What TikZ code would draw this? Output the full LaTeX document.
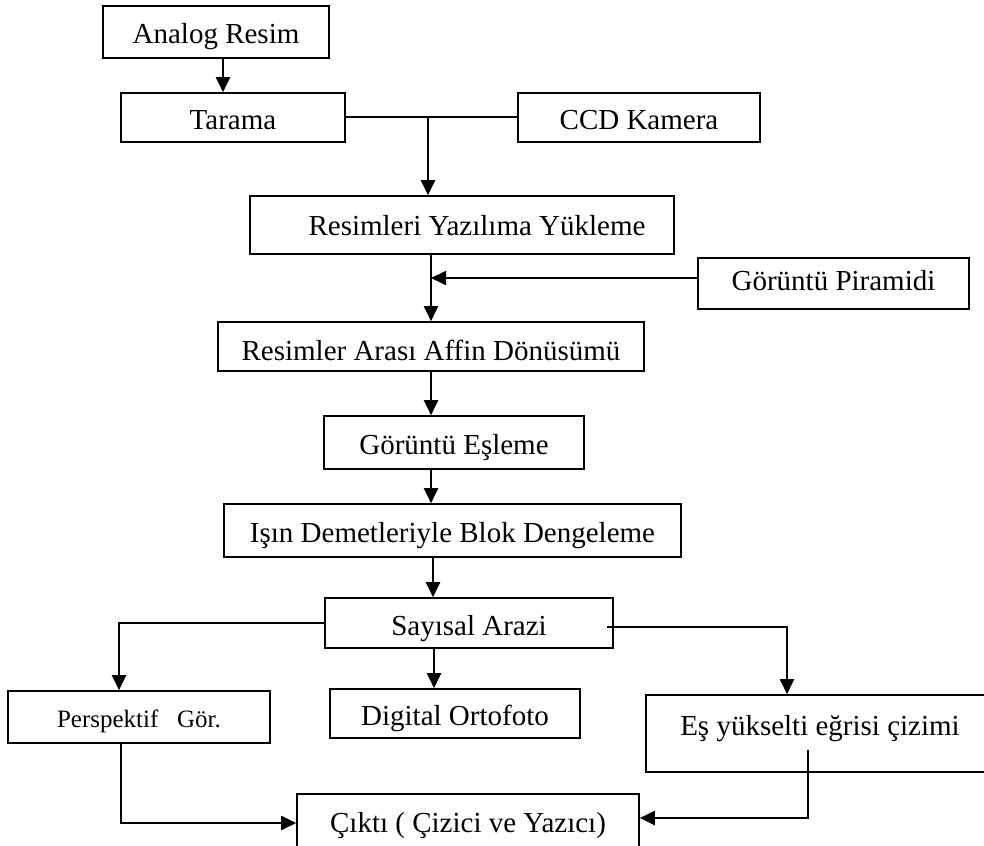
\documentclass[tikz,border=0pt]{standalone}
\usepackage{fontspec}
\setmainfont{Liberation Serif}
\usetikzlibrary{arrows.meta}

\begin{document}
\begin{tikzpicture}[
  x=1pt, y=-1pt,
  box/.style={draw, line width=1.6pt, inner sep=0pt, font=\fontsize{29pt}{34pt}\selectfont, text height=30pt, text depth=6pt},
  flow/.style={line width=2pt, -{Triangle[length=15pt, width=14pt]}},
  wire/.style={line width=2pt}
]
\useasboundingbox (0,0) rectangle (984,845);

\node[box, minimum width=226pt, minimum height=52pt] (analog) at (216,32) {Analog Resim};
\node[box, minimum width=224pt, minimum height=49pt] (tarama) at (233,117.5) {Tarama};
\node[box, minimum width=242pt, minimum height=49pt] (ccd) at (639,117.5) {CCD Kamera};
\node[box, minimum width=424pt, minimum height=58pt, text depth=10pt] (yukle) at (462,225) {\hspace*{30pt}Resimleri Yazılıma Yükleme};
\node[box, minimum width=271pt, minimum height=51pt, text depth=17pt] (piramit) at (833.5,283.5) {Görüntü Piramidi};
\node[box, minimum width=426pt, minimum height=49pt, text depth=2pt] (affin) at (431,346.5) {Resimler Arası Affin Dönüsümü};
\node[box, minimum width=260pt, minimum height=53pt] (esleme) at (454,442.5) {Görüntü Eşleme};
\node[box, minimum width=457pt, minimum height=53pt] (blok) at (452.5,530.5) {Işın Demetleriyle Blok Dengeleme};
\node[box, minimum width=288pt, minimum height=50pt] (arazi) at (469,623) {Sayısal Arazi};
\node[box, minimum width=262pt, minimum height=52pt, text depth=10pt, font=\fontsize{25pt}{30pt}\selectfont] (persp) at (139,717) {Perspektif \ \ Gör.};
\node[box, minimum width=250pt, minimum height=49pt] (orto) at (455,713.5) {Digital Ortofoto};
\node[box, minimum width=348pt, minimum height=77pt, text depth=27pt] (egri) at (820,733.5) {Eş yükselti eğrisi çizimi};
\node[box, minimum width=342pt, minimum height=58pt, text depth=12pt] (cikti) at (468,823) {Çıktı ( Çizici ve Yazıcı)};

\coordinate (birles) at ([xshift=-34pt]yukle.north |- tarama.east);

\draw[flow] ([xshift=7pt]analog.south) -- ([xshift=7pt]analog.south |- tarama.north);
\draw[wire] (tarama.east) -- (ccd.west);
\draw[flow] (birles) -- (birles |- yukle.north);
\draw[flow] (yukle.south -| affin.north) -- (affin.north);
\draw[flow] ([yshift=5.5pt]piramit.west) -- ([yshift=5.5pt]piramit.west -| affin.north);
\draw[flow] (affin.south) -- (affin.south |- esleme.north);
\draw[flow] (esleme.south -| affin.south) -- (blok.north -| affin.south);
\draw[flow] ([xshift=2pt]blok.south -| affin.south) -- ([xshift=2pt]arazi.north -| affin.south);
\draw[flow] (arazi.west) -| ([xshift=-20pt]persp.north);
\draw[flow] ([xshift=3pt]arazi.south -| affin.south) -- ([xshift=3pt]orto.north -| affin.south);
\draw[flow] ([xshift=-7pt,yshift=-4pt]arazi.east) -| ([xshift=-33pt]egri.north);
\draw[flow] ([xshift=-18pt]persp.south) |- (cikti.west);
\draw[flow] ([xshift=-12pt,yshift=-16.5pt]egri.center) |- ([yshift=5pt]cikti.east);

\end{tikzpicture}
\end{document}
